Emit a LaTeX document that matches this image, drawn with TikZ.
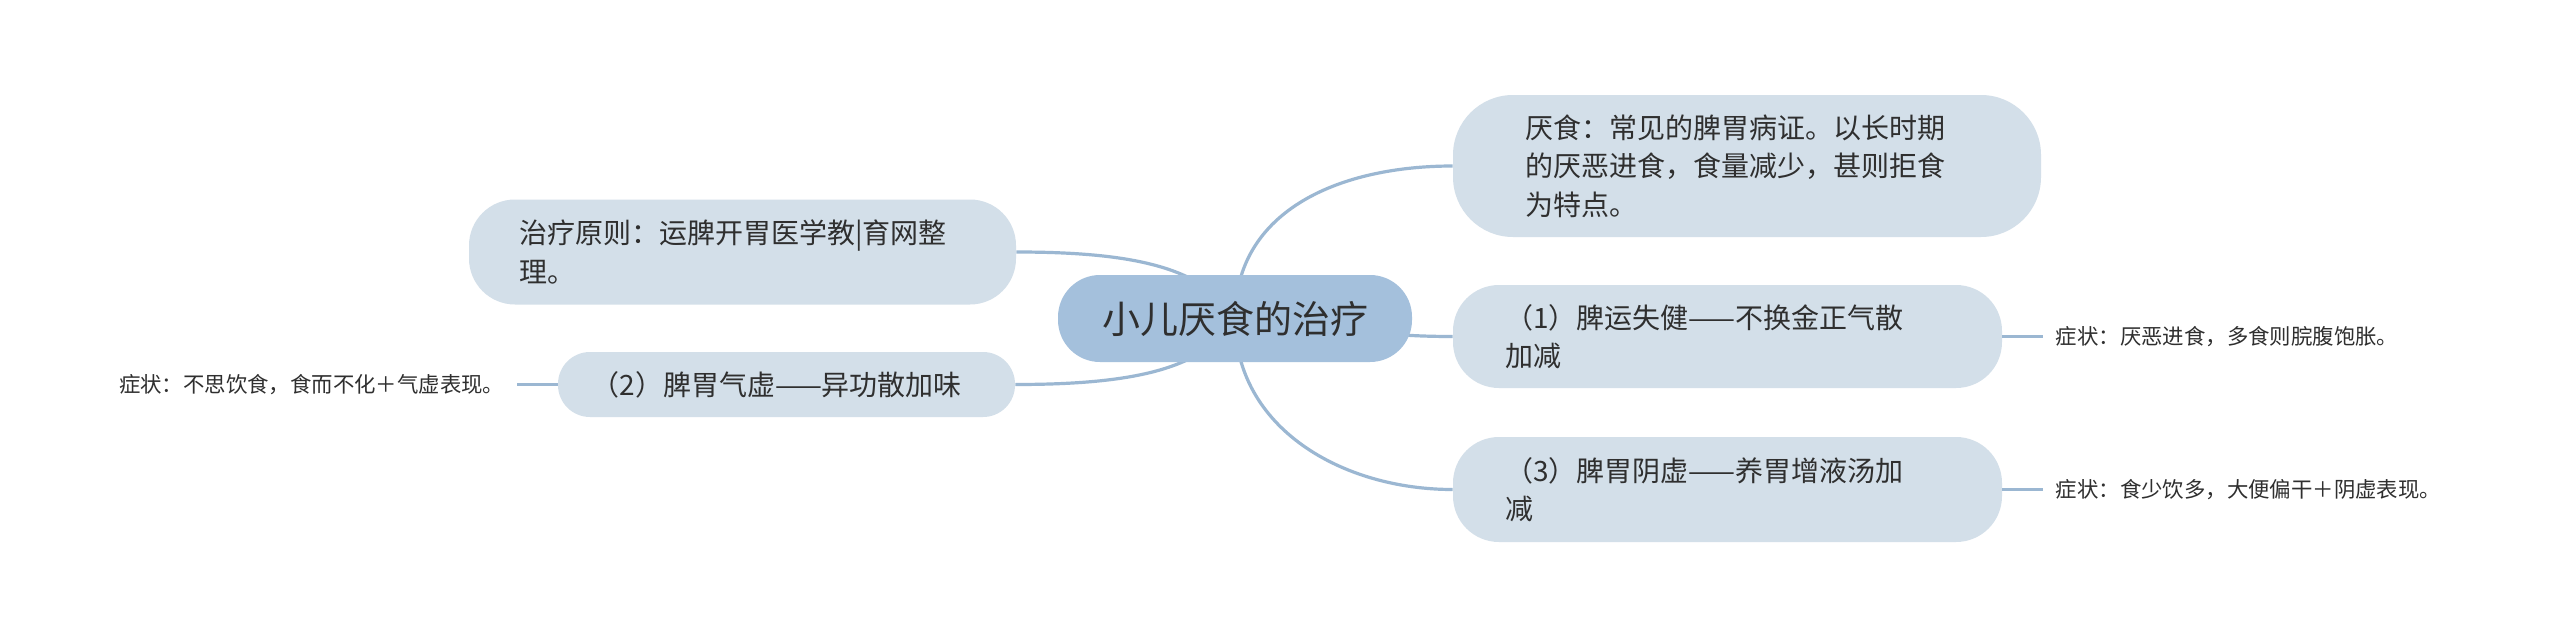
\documentclass[tikz,border=0pt]{standalone}
\usepackage{fontspec}
\setmainfont{Noto Sans CJK SC}
\usepackage{tikz}
\usetikzlibrary{calc,positioning,backgrounds}
\definecolor{mroot}{HTML}{A4C0DC}
\definecolor{msub}{HTML}{D3DFE9}
\definecolor{mlink}{HTML}{9BB7D2}
\definecolor{ink}{HTML}{2F2F2F}
\tikzset{
  blk/.style ={align=left, text=ink, inner sep=0pt,
               font=\fontsize{14pt}{19.25pt}\selectfont},
  topic/.style={blk, fill=msub},
  root/.style={fill=mroot, rounded corners=21pt, minimum width=177pt, minimum height=43.5pt,
               inner sep=0pt, text=ink, font=\fontsize{19pt}{23pt}\selectfont},
  leaf/.style={text=ink, inner xsep=6pt, inner ysep=2pt, font=\fontsize{10.7pt}{13pt}\selectfont},
  link/.style={draw=mlink, line width=1.6pt},
}

\begin{document}
\begin{tikzpicture}[x=0.5pt, y=-0.5pt]
\useasboundingbox (0,0) rectangle (2560,637);

% ============ centre ========================================================
\node[root] (root) at (1235,318.5) {小儿厌食的治疗};

% ============ right branches ================================================
\node[topic, minimum width=294pt, minimum height=71pt, text width=222pt, rounded corners=30pt]
  (def) at (1747,166) {厌食：常见的脾胃病证。以长时期\\的厌恶进食，食量减少，甚则拒食\\为特点。};
\node[topic, minimum width=274.5pt, minimum height=51.5pt, text width=222.5pt, rounded corners=23pt]
  (n1) at (1727.5,336.5) {（1）脾运失健——不换金正气散\\加减};
\node[topic, minimum width=274.5pt, minimum height=52.5pt, text width=222.5pt, rounded corners=23pt]
  (n3) at (1727.5,489.5) {（3）脾胃阴虚——养胃增液汤加\\减};

% ============ left branches =================================================
\node[topic, minimum width=273.5pt, minimum height=52.5pt, text width=223.5pt, rounded corners=23pt]
  (prin) at (742.5,252) {治疗原则：运脾开胃医学教|育网整\\理。};
\node[topic, minimum width=228.5pt, minimum height=32.5pt, text width=195pt, rounded corners=16pt]
  (n2) at (786.5,384.5) {（2）脾胃气虚——异功散加味};

% ============ symptoms ======================================================
\node[leaf, right=20.5pt of n1] (s1) {症状：厌恶进食，多食则脘腹饱胀。};
\node[leaf, right=20.5pt of n3] (s3) {症状：食少饮多，大便偏干＋阴虚表现。};
\node[leaf, left=20.5pt of n2] (s2) {症状：不思饮食，食而不化＋气虚表现。};

% ============ links =========================================================
\begin{scope}[on background layer]
  \fill[white] (0,0) rectangle (2560,637);
  \draw[link] (root.center) .. controls ($(root.center)+(0,-110)$) and ($(def.west)+(-110,0)$) .. (def.west);
  \draw[link] (root.center) .. controls ($(root.center)+(110,0)$) and ($(n1.west)+(-110,0)$) .. (n1.west);
  \draw[link] (root.center) .. controls ($(root.center)+(0,110)$) and ($(n3.west)+(-110,0)$) .. (n3.west);
  \draw[link] (root.center) .. controls ($(root.center)+(-30,-50)$) and ($(prin.east)+(120,0)$) .. (prin.east);
  \draw[link] (root.center) .. controls ($(root.center)+(-30,50)$) and ($(n2.east)+(120,0)$) .. (n2.east);
\end{scope}
\draw[link] (n1.east) -- (s1.west);
\draw[link] (n3.east) -- (s3.west);
\draw[link] (n2.west) -- (s2.east);

\end{tikzpicture}
\end{document}
